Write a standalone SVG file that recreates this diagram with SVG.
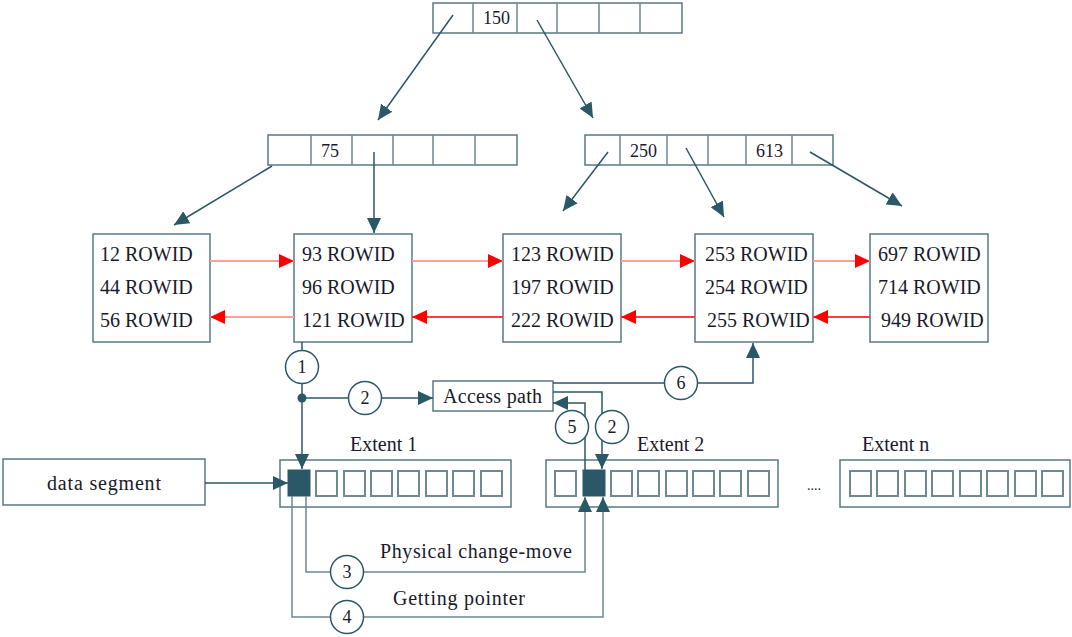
<svg xmlns="http://www.w3.org/2000/svg" width="1072" height="637" viewBox="0 0 1072 637">
<style>
  .box{fill:#fff;stroke:#587882;stroke-width:1.5}
  .cell{fill:#fff;stroke:#6f8891;stroke-width:2}
  .blk{fill:#2b5866;stroke:#2b5866;stroke-width:1}
  .t{font-family:"Liberation Serif","Times New Roman",serif;font-size:20px;fill:#1a1a2a}
  .n{font-family:"Liberation Serif","Times New Roman",serif;font-size:18px;fill:#1a1a2a}
  .c{font-family:"Liberation Serif","Times New Roman",serif;font-size:18px;fill:#1a1a2a;text-anchor:middle}
  .ln{fill:none;stroke:#2b5866;stroke-width:1.5}
  .lg{fill:none;stroke:#6f8891;stroke-width:1.5}
  .rf{fill:none;stroke:#ff9c9c;stroke-width:2}
  .rb{fill:none;stroke:#ff3c3c;stroke-width:2}
  .circ{fill:#fff;stroke:#2b5866;stroke-width:1.5}
</style>
<defs>
  <marker id="ah" markerUnits="userSpaceOnUse" markerWidth="16" markerHeight="14" refX="15" refY="7" orient="auto">
    <path d="M0,0 L15,7 L0,14 z" fill="#2b5866"/>
  </marker>
  <marker id="rh" markerUnits="userSpaceOnUse" markerWidth="16" markerHeight="14" refX="15" refY="7" orient="auto">
    <path d="M0,0 L15,7 L0,14 z" fill="#ff0000"/>
  </marker>
</defs>
<rect width="1072" height="637" fill="#fff"/>

<g id="root-node">
  <rect class="box" x="433" y="3" width="249" height="30"/>
  <path class="lg" d="M473,3 V33 M517,3 V33 M557,3 V33 M599,3 V33 M640,3 V33"/>
  <text class="n" x="483" y="24">150</text>
</g>

<g id="index-left">
  <rect class="box" x="268" y="135" width="249" height="30"/>
  <path class="lg" d="M311,135 V165 M352,135 V165 M393,135 V165 M433,135 V165 M475,135 V165"/>
  <text class="n" x="321" y="157">75</text>
</g>

<g id="index-right">
  <rect class="box" x="585" y="135" width="248" height="30"/>
  <path class="lg" d="M620,135 V165 M667,135 V165 M708,135 V165 M746,135 V165 M792,135 V165"/>
  <text class="n" x="630" y="157">250</text>
  <text class="n" x="756" y="157">613</text>
</g>

<g id="leaf1">
  <rect class="box" x="93" y="234" width="117" height="108"/>
  <text class="t" x="100" y="261">12 ROWID</text>
  <text class="t" x="100" y="294">44 ROWID</text>
  <text class="t" x="100" y="327">56 ROWID</text>
</g>
<g id="leaf2">
  <rect class="box" x="294" y="234" width="118" height="108"/>
  <text class="t" x="302" y="261">93 ROWID</text>
  <text class="t" x="302" y="294">96 ROWID</text>
  <text class="t" x="302" y="327">121 ROWID</text>
</g>
<g id="leaf3">
  <rect class="box" x="503" y="234" width="118" height="108"/>
  <text class="t" x="511" y="261">123 ROWID</text>
  <text class="t" x="511" y="294">197 ROWID</text>
  <text class="t" x="511" y="327">222 ROWID</text>
</g>
<g id="leaf4">
  <rect class="box" x="695" y="234" width="118" height="108"/>
  <text class="t" x="705" y="261">253 ROWID</text>
  <text class="t" x="705" y="294">254 ROWID</text>
  <text class="t" x="707" y="327">255 ROWID</text>
</g>
<g id="leaf5">
  <rect class="box" x="870" y="234" width="118" height="108"/>
  <text class="t" x="878" y="261">697 ROWID</text>
  <text class="t" x="878" y="294">714 ROWID</text>
  <text class="t" x="881" y="327">949 ROWID</text>
</g>

<g id="access-path">
  <rect class="box" x="433" y="381" width="120" height="30"/>
  <text class="t" x="443" y="403" textLength="99">Access path</text>
</g>

<g id="data-segment">
  <rect class="box" x="3" y="459" width="202" height="46"/>
  <text class="t" x="47" y="490" textLength="114">data segment</text>
</g>

<g id="extent1">
  <text class="t" x="350" y="451">Extent 1</text>
  <rect class="box" x="280" y="460" width="231" height="47"/>
  <rect class="blk" x="288" y="470" width="22" height="26"/>
  <rect class="cell" x="316" y="471" width="21" height="25"/>
  <rect class="cell" x="344" y="471" width="21" height="25"/>
  <rect class="cell" x="371" y="471" width="21" height="25"/>
  <rect class="cell" x="398" y="471" width="21" height="25"/>
  <rect class="cell" x="426" y="471" width="21" height="25"/>
  <rect class="cell" x="453" y="471" width="21" height="25"/>
  <rect class="cell" x="481" y="471" width="21" height="25"/>
</g>

<g id="extent2">
  <text class="t" x="637" y="451">Extent 2</text>
  <rect class="box" x="546" y="460" width="232" height="47"/>
  <rect class="cell" x="555" y="471" width="21" height="25"/>
  <rect class="blk" x="583" y="470" width="22" height="26"/>
  <rect class="cell" x="611" y="471" width="21" height="25"/>
  <rect class="cell" x="638" y="471" width="21" height="25"/>
  <rect class="cell" x="666" y="471" width="21" height="25"/>
  <rect class="cell" x="693" y="471" width="21" height="25"/>
  <rect class="cell" x="720" y="471" width="21" height="25"/>
  <rect class="cell" x="748" y="471" width="21" height="25"/>
</g>

<g id="extentn">
  <text class="t" x="807" y="490" style="font-size:14px">....</text>
  <text class="t" x="862" y="451">Extent n</text>
  <rect class="box" x="840" y="460" width="230" height="47"/>
  <rect class="cell" x="850" y="471" width="21" height="25"/>
  <rect class="cell" x="877" y="471" width="21" height="25"/>
  <rect class="cell" x="905" y="471" width="21" height="25"/>
  <rect class="cell" x="932" y="471" width="21" height="25"/>
  <rect class="cell" x="960" y="471" width="21" height="25"/>
  <rect class="cell" x="987" y="471" width="21" height="25"/>
  <rect class="cell" x="1015" y="471" width="21" height="25"/>
  <rect class="cell" x="1042" y="471" width="21" height="25"/>
</g>

<g id="connectors">
  <!-- tree pointers -->
  <line class="ln" x1="453" y1="15" x2="378" y2="120" marker-end="url(#ah)"/>
  <line class="ln" x1="537" y1="20" x2="593" y2="118" marker-end="url(#ah)"/>
  <line class="ln" x1="272" y1="166" x2="174" y2="225" marker-end="url(#ah)"/>
  <line class="ln" x1="374" y1="152" x2="374" y2="233" marker-end="url(#ah)"/>
  <line class="ln" x1="608" y1="152" x2="563" y2="211" marker-end="url(#ah)"/>
  <line class="ln" x1="686" y1="148" x2="724" y2="217" marker-end="url(#ah)"/>
  <line class="ln" x1="810" y1="152" x2="902" y2="206" marker-end="url(#ah)"/>

  <!-- leaf sibling links -->
  <line class="rf" x1="210" y1="261" x2="294" y2="261" marker-end="url(#rh)"/>
  <line class="rf" x1="412" y1="261" x2="503" y2="261" marker-end="url(#rh)"/>
  <line class="rf" x1="621" y1="261" x2="695" y2="261" marker-end="url(#rh)"/>
  <line class="rf" x1="813" y1="261" x2="870" y2="261" marker-end="url(#rh)"/>
  <line class="rf" x1="294" y1="317" x2="210" y2="317" marker-end="url(#rh)"/>
  <line class="rb" x1="503" y1="317" x2="412" y2="317" marker-end="url(#rh)"/>
  <line class="rb" x1="695" y1="317" x2="621" y2="317" marker-end="url(#rh)"/>
  <line class="rb" x1="870" y1="317" x2="813" y2="317" marker-end="url(#rh)"/>

  <!-- flow 1 and 2 -->
  <line class="ln" x1="302" y1="342" x2="302" y2="469" marker-end="url(#ah)"/>
  <circle cx="302" cy="398" r="4.5" fill="#2b5866"/>
  <line class="ln" x1="302" y1="398" x2="433" y2="398" marker-end="url(#ah)"/>
  <!-- 6 -->
  <path class="ln" d="M553,383 H753 V343" marker-end="url(#ah)"/>
  <!-- 2 to extent 2 -->
  <path class="ln" d="M553,392 H602 V469" marker-end="url(#ah)"/>
  <!-- 5 back to access path -->
  <path class="ln" d="M585,496 V403 H553" marker-end="url(#ah)"/>
  <!-- data segment -->
  <line class="ln" x1="205" y1="483" x2="288" y2="483" marker-end="url(#ah)"/>
  <!-- 3 physical change-move -->
  <path class="lg" d="M306,496 V572 H585 V497" marker-end="url(#ah)"/>
  <!-- 4 getting pointer -->
  <path class="lg" d="M292,496 V617 H603 V497" marker-end="url(#ah)"/>

  <!-- numbered circles -->
  <circle class="circ" cx="302" cy="367" r="16.5"/>
  <text class="c" x="302" y="373">1</text>
  <circle class="circ" cx="365" cy="398" r="16.5"/>
  <text class="c" x="365" y="404">2</text>
  <circle class="circ" cx="681" cy="383" r="16.5"/>
  <text class="c" x="681" y="389">6</text>
  <circle class="circ" cx="572" cy="427" r="16.5"/>
  <text class="c" x="572" y="433">5</text>
  <circle class="circ" cx="612" cy="427" r="16.5"/>
  <text class="c" x="612" y="433">2</text>
  <circle class="circ" cx="347" cy="572" r="16.5"/>
  <text class="c" x="347" y="578">3</text>
  <circle class="circ" cx="347" cy="617" r="16.5"/>
  <text class="c" x="347" y="623">4</text>

  <text class="t" x="380" y="558" textLength="192">Physical change-move</text>
  <text class="t" x="393" y="605" textLength="132">Getting pointer</text>
</g>
</svg>
